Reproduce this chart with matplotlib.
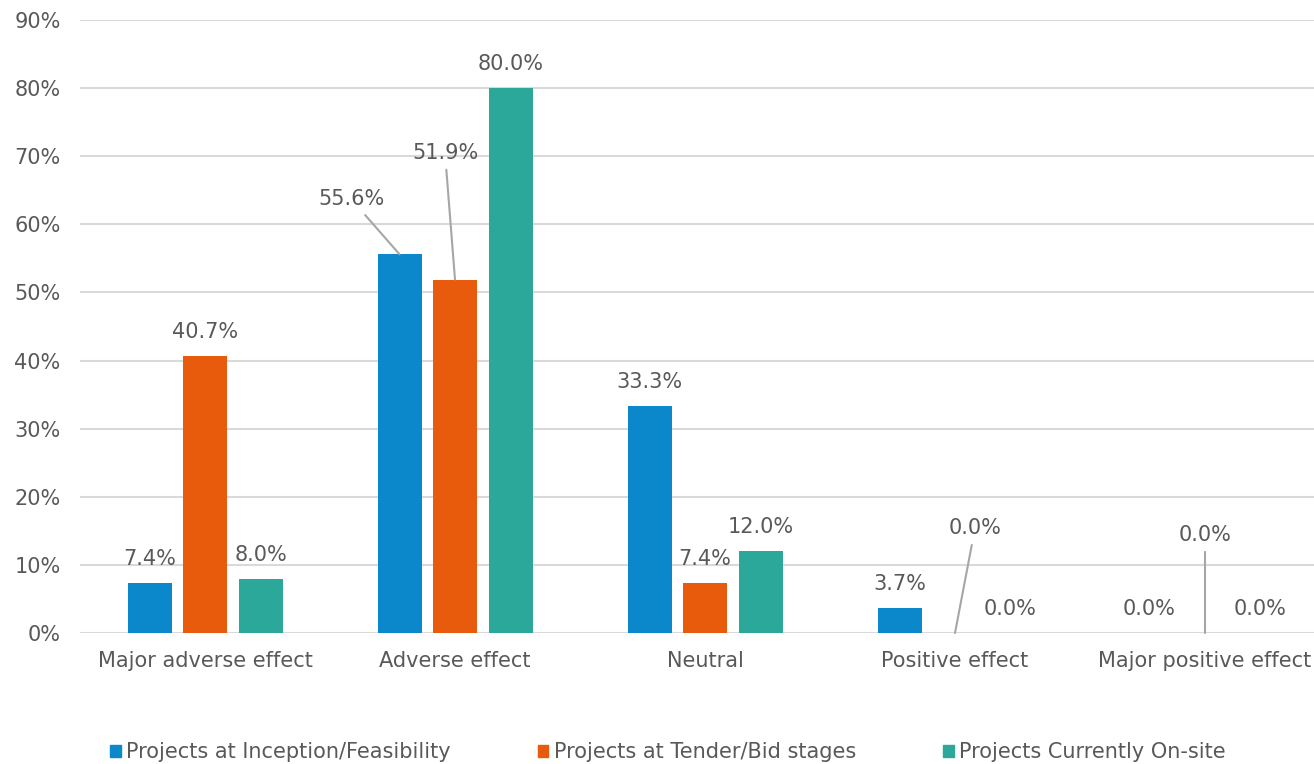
import numpy as np
import matplotlib.pyplot as plt
from matplotlib.patches import Patch

plt.rcParams['font.family'] = ['DejaVu Sans']

categories = ["Major adverse effect", "Adverse effect", "Neutral",
              "Positive effect", "Major positive effect"]
series = ["Projects at Inception/Feasibility", "Projects at Tender/Bid stages",
          "Projects Currently On-site"]
inception = [7.4, 55.6, 33.3, 3.7, 0.0]
tender = [40.7, 51.9, 7.4, 0.0, 0.0]
onsite = [8.0, 80.0, 12.0, 0.0, 0.0]
yticks = [0, 10, 20, 30, 40, 50, 60, 70, 80, 90]

colors = ["#0a88cb", "#e95b0c", "#2ca89a"]
txt = "#595959"
fs = 15

fig = plt.figure(figsize=(13.14, 7.64), dpi=100)
ax = fig.add_axes([80/1314, 131/764, 1250/1314, 613/764])

x = np.arange(len(categories))
w = 0.176
step = 0.222
data = [inception, tender, onsite]

# labels that sit away from their bar, joined by a leader line
# (series index, category index) -> label centre in data units
leaders = {(0, 1): (0.585, 63.7), (1, 1): (0.96, 70.5),
           (1, 3): (3.08, 15.4), (1, 4): (4.0, 14.4)}

for s, vals in enumerate(data):
    xs = x + (s - 1) * step
    ax.bar(xs, vals, width=w, color=colors[s], zorder=3)
    for c, (xi, v) in enumerate(zip(xs, vals)):
        lab = f"{v:.1f}%"
        if (s, c) in leaders:
            lx, ly = leaders[(s, c)]
            ax.annotate(lab, xy=(xi, v), xytext=(lx, ly), ha='center', va='center',
                        fontsize=fs, color=txt, zorder=4,
                        arrowprops=dict(arrowstyle='-', color='#a6a6a6', lw=1.5,
                                        shrinkA=3, shrinkB=0))
        else:
            ax.annotate(lab, xy=(xi, v), xytext=(0, 10), textcoords='offset points',
                        ha='center', va='bottom', fontsize=fs, color=txt, zorder=4)

ax.set_xlim(-0.5, 4.5)
ax.set_ylim(0, 90)
ax.set_yticks(yticks)
ax.set_yticklabels([f"{t}%" for t in yticks])
ax.set_xticks(x)
ax.set_xticklabels(categories)
ax.tick_params(length=0, labelsize=fs, labelcolor=txt)
ax.tick_params(axis='y', pad=14)
ax.tick_params(axis='x', pad=13)
ax.grid(axis='y', color='#d9d9d9', lw=1.5, zorder=0)
for sp in ax.spines.values():
    sp.set_visible(False)

handles = [Patch(color=c) for c in colors]
fig.legend(handles, series, loc='center', bbox_to_anchor=(668/1314, 12/764),
           ncol=3, frameon=False, fontsize=fs, labelcolor=txt,
           handlelength=0.5, handleheight=0.5, handletextpad=0.25,
           columnspacing=4.2)

fig.savefig("out.png", dpi=100)
